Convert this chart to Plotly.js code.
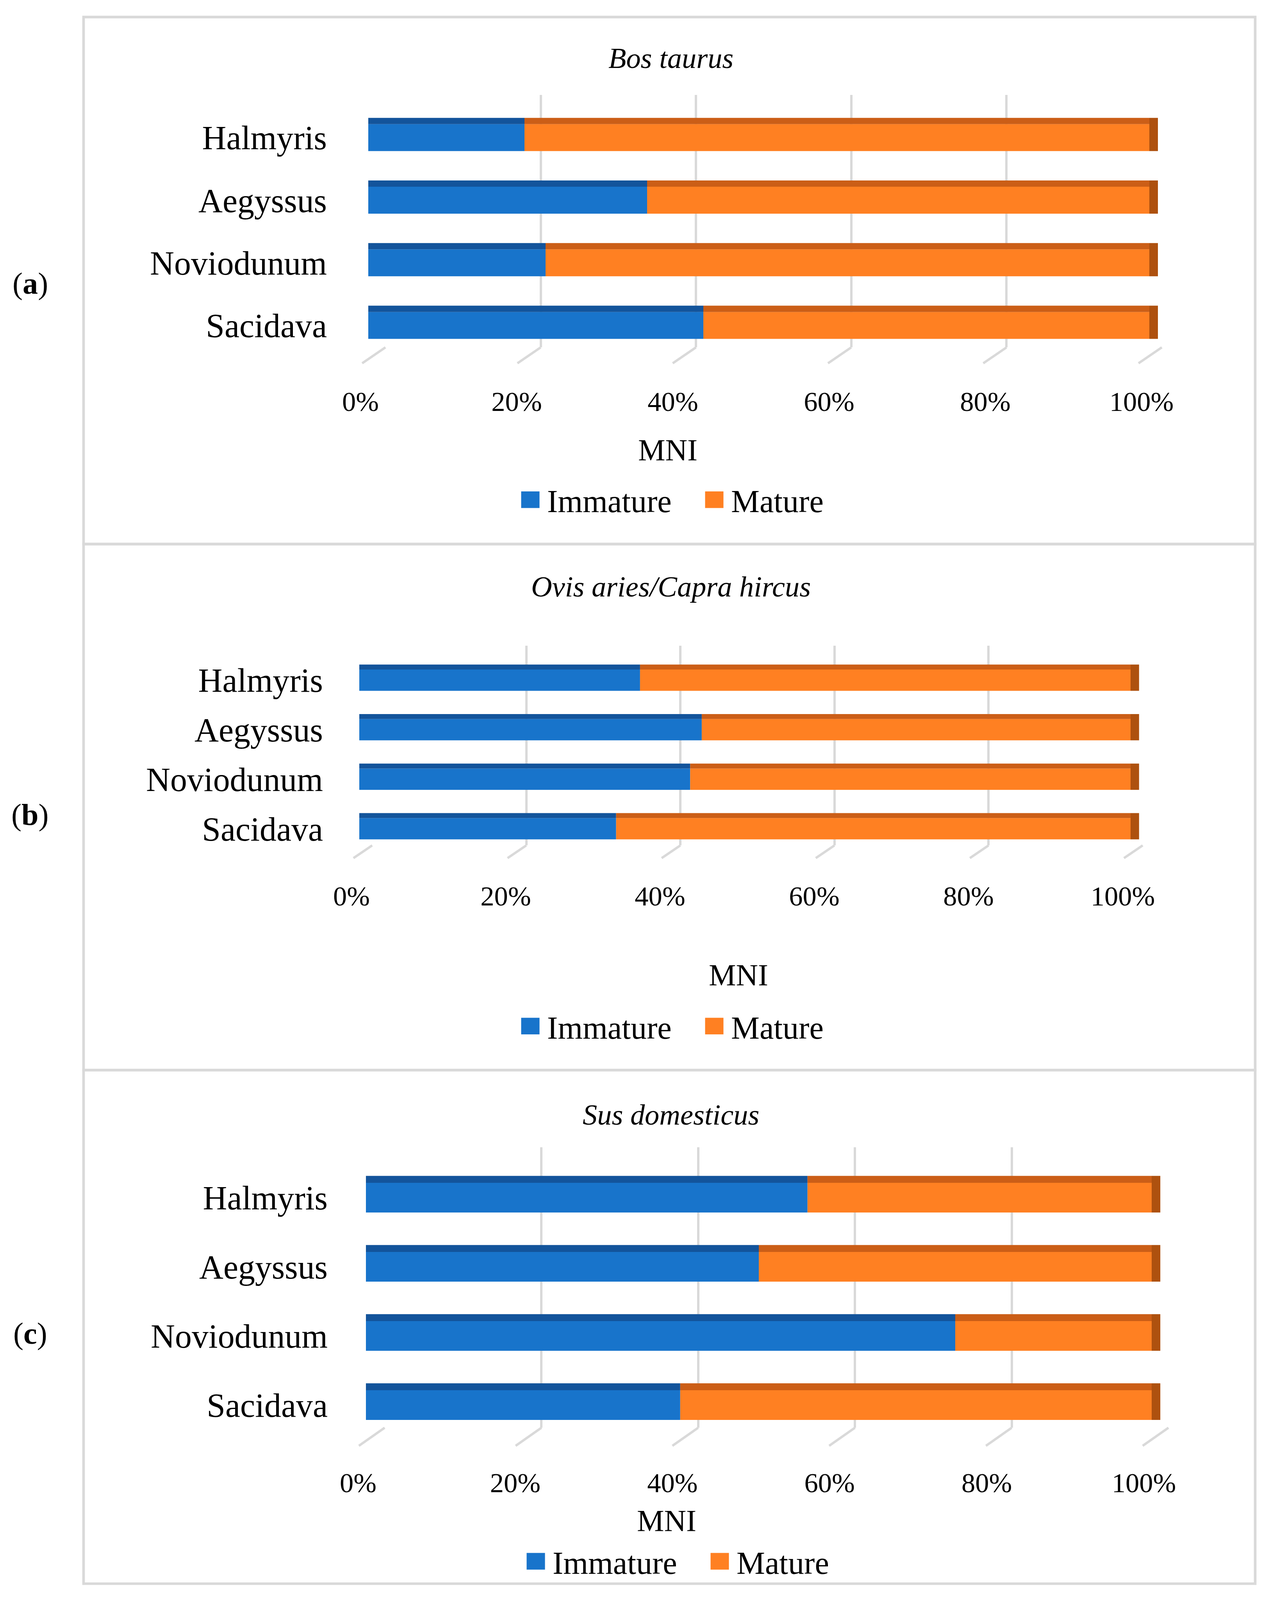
<!DOCTYPE html>
<html>
<head>
<meta charset="utf-8">
<script src="https://cdn.plot.ly/plotly-3.0.1.min.js"></script>
<style>
  html, body { margin: 0; padding: 0; background: #ffffff; overflow: hidden; }
</style>
</head>
<body>
<div id="chart"></div>
<script>
// ---------------- data (% of MNI) ----------------
const sites = ['Halmyris', 'Aegyssus', 'Noviodunum', 'Sacidava']; // top to bottom
const seriesNames = ['Immature', 'Mature'];
const xTickValues = [0, 20, 40, 60, 80, 100];
const xTickLabels = ['0%', '20%', '40%', '60%', '80%', '100%'];
const panelTitles = ['Bos taurus', 'Ovis aries/Capra hircus', 'Sus domesticus'];
const panelLetters = ['a', 'b', 'c'];
const axisTitle = 'MNI';

const bosImmature  = [20.0, 35.7, 22.7, 42.9];
const bosMature    = [80.0, 64.3, 77.3, 57.1];
const ovisImmature = [36.4, 44.4, 42.9, 33.3];
const ovisMature   = [63.6, 55.6, 57.1, 66.7];
const susImmature  = [56.2, 50.0, 75.0, 40.0];
const susMature    = [43.8, 50.0, 25.0, 60.0];

// ---------------- styling / layout ----------------
const REF_W = 3252, REF_H = 4514;              // reference picture size
const W = window.innerWidth || REF_W;          // actual viewport
const H = window.innerHeight || REF_H;
const sx = W / REF_W, sy = H / REF_H, fs = (sx + sy) / 2;
document.getElementById('chart').style.width = W + 'px';
document.getElementById('chart').style.height = H + 'px';

const FONT = 'Liberation Serif, Times New Roman, serif';
const BLUE = '#1874CB', BLUE_TOP = '#13549B';
const ORANGE = '#FF8022', ORANGE_TOP = '#CB5E17', ORANGE_SIDE = '#AE510F';
const GRID = '#d9d9d9';
const FRONT_W = 0.43, TOP_W = 0.10, DEPTH = 1.1, XMAX = 101.5;
const GRID_RANGE = [0, 100];

const fx = v => v / REF_W;
const fy = v => 1 - v / REF_H;

const panelGeo = [
  { bar: {x0: 943, x100: 2943, top: 268,  bot: 1010, rng: [-0.52, 3.68]},
    grid: {x0: 987, x100: 2975, top: 268,  bot: 980, floorDx: 3.0, floorDy: 0.063},
    xStand: 70, yStand: 105,
    title: 164, mni: [1710, 1269], legend: [1332, 1410], letter: 800,
    box: [48, 1535] },
  { bar: {x0: 920, x100: 2895, top: 1822, bot: 2413, rng: [-0.537, 3.694]},
    grid: {x0: 953, x100: 2926, top: 1822, bot: 2385, floorDx: 2.43, floorDy: 0.064},
    xStand: 63, yStand: 92,
    title: 1655, mni: [1891, 2750], legend: [1332, 2895], letter: 2298,
    box: [1535, 3019] },
  { bar: {x0: 937, x100: 2949, top: 3243, bot: 4051, rng: [-0.446, 3.697]},
    grid: {x0: 985, x100: 2992, top: 3237, bot: 4028, floorDx: 3.29, floorDy: 0.0645},
    xStand: 81, yStand: 97,
    title: 3145, mni: [1707, 4290], legend: [1346, 4405], letter: 3762,
    box: [3019, 4468] }
];

const seriesData = [
  [bosImmature, bosMature],
  [ovisImmature, ovisMature],
  [susImmature, susMature]
];

const ITEMW = 76, ENTRYW = 380, SWATCH = 47;

const traces = [];
const layout = {
  width: W, height: H,
  margin: {l: 0, r: 0, t: 0, b: 0},
  paper_bgcolor: '#ffffff',
  plot_bgcolor: 'rgba(0,0,0,0)',
  barmode: 'overlay',
  showlegend: true,
  font: {family: FONT, color: '#000000', size: 80 * fs},
  annotations: [],
  shapes: []
};

const catOrder = sites.slice().reverse(); // bottom to top on the axis

panelGeo.forEach((g, i) => {
  const gx = i === 0 ? 'x' : 'x' + (i + 1);
  const gyy = i === 0 ? 'y' : 'y' + (i + 1);
  const bx = 'x' + (i + 4), by = 'y' + (i + 4);
  const legendId = i === 0 ? 'legend' : 'legend' + (i + 1);
  const [imm, mat] = seriesData[i];
  const matBase = imm.slice();
  const endBase = imm.map((v, k) => v + mat[k]);

  // back-wall gridlines (own subplot, drawn first so it lies behind the bars)
  traces.push({type: 'scatter', x: [], y: [], xaxis: gx, yaxis: gyy,
               showlegend: false, hoverinfo: 'skip'});
  layout[gx.replace('x', 'xaxis')] = {
    domain: [fx(g.grid.x0), fx(g.grid.x100)], range: GRID_RANGE, anchor: gyy,
    tickvals: xTickValues, showticklabels: false, ticks: '',
    showgrid: true, gridcolor: GRID, gridwidth: 6 * sx, zeroline: false, showline: false,
    fixedrange: true
  };
  layout[gyy.replace('y', 'yaxis')] = {
    domain: [fy(g.grid.bot), fy(g.grid.top)], range: [0, 1], anchor: gx,
    showgrid: false, showticklabels: false, zeroline: false, showline: false,
    ticks: '', fixedrange: true
  };
  // floor gridlines: short slanted strokes from the foot of each back gridline
  const span = GRID_RANGE[1] - GRID_RANGE[0];
  xTickValues.forEach(v => {
    layout.shapes.push({
      type: 'line', xref: gx + ' domain', yref: gyy + ' domain', layer: 'below',
      x0: (v - GRID_RANGE[0]) / span, y0: 0,
      x1: (v - g.grid.floorDx - GRID_RANGE[0]) / span, y1: -g.grid.floorDy,
      line: {color: GRID, width: 6 * sx}
    });
  });

  // front faces
  traces.push({type: 'bar', orientation: 'h', name: seriesNames[0], y: sites, x: imm,
               base: 0, width: FRONT_W, offset: -FRONT_W / 2,
               marker: {color: BLUE, line: {width: 0}}, xaxis: bx, yaxis: by,
               legend: legendId, showlegend: true, hoverinfo: 'x+y'});
  traces.push({type: 'bar', orientation: 'h', name: seriesNames[1], y: sites, x: mat,
               base: matBase, width: FRONT_W, offset: -FRONT_W / 2,
               marker: {color: ORANGE, line: {width: 0}}, xaxis: bx, yaxis: by,
               legend: legendId, showlegend: true, hoverinfo: 'x+y'});
  // top faces (3-D look)
  traces.push({type: 'bar', orientation: 'h', name: seriesNames[0] + ' top', y: sites, x: imm,
               base: 0, width: TOP_W, offset: FRONT_W / 2,
               marker: {color: BLUE_TOP, line: {width: 0}}, xaxis: bx, yaxis: by,
               showlegend: false, hoverinfo: 'skip'});
  traces.push({type: 'bar', orientation: 'h', name: seriesNames[1] + ' top', y: sites, x: mat,
               base: matBase, width: TOP_W, offset: FRONT_W / 2,
               marker: {color: ORANGE_TOP, line: {width: 0}}, xaxis: bx, yaxis: by,
               showlegend: false, hoverinfo: 'skip'});
  // right side face
  traces.push({type: 'bar', orientation: 'h', name: 'side', y: sites, x: sites.map(() => DEPTH),
               base: endBase, width: FRONT_W + TOP_W, offset: -FRONT_W / 2,
               marker: {color: ORANGE_SIDE, line: {width: 0}}, xaxis: bx, yaxis: by,
               showlegend: false, hoverinfo: 'skip'});

  const xEnd = g.bar.x100 + (XMAX - 100) * (g.bar.x100 - g.bar.x0) / 100;
  layout['xaxis' + (i + 4)] = {
    domain: [fx(g.bar.x0), fx(xEnd)], range: [0, XMAX], anchor: by,
    tickvals: xTickValues, ticktext: xTickLabels, ticks: '',
    ticklabelstandoff: Math.round(g.xStand * sy), ticklabelshift: Math.round(-20 * sx),
    tickfont: {family: FONT, size: 74 * fs, color: '#000000'},
    showgrid: false, zeroline: false, showline: false, fixedrange: true
  };
  layout['yaxis' + (i + 4)] = {
    domain: [fy(g.bar.bot), fy(g.bar.top)], range: g.bar.rng, anchor: bx,
    type: 'category', categoryorder: 'array', categoryarray: catOrder,
    ticks: '', ticklabelstandoff: Math.round(g.yStand * sx),
    tickfont: {family: FONT, size: 90 * fs, color: '#000000'},
    showgrid: false, zeroline: false, showline: false, fixedrange: true
  };

  layout[legendId] = {
    orientation: 'h',
    x: fx(g.legend[0] - 17), y: fy(g.legend[1]),
    xanchor: 'left', yanchor: 'middle', xref: 'paper', yref: 'paper',
    font: {family: FONT, size: 86 * fs, color: '#000000'},
    bgcolor: 'rgba(0,0,0,0)', borderwidth: 0,
    itemwidth: Math.round(ITEMW * sx), entrywidth: Math.round(ENTRYW * sx), entrywidthmode: 'pixels',
    traceorder: 'normal', itemclick: false, itemdoubleclick: false
  };

  layout.annotations.push({
    text: '<i>' + panelTitles[i] + '</i>', xref: 'paper', yref: 'paper',
    x: fx(1718), y: fy(g.title), xanchor: 'center', yanchor: 'middle',
    showarrow: false, font: {family: FONT, size: 78 * fs, color: '#000000'}
  });
  layout.annotations.push({
    text: axisTitle, xref: 'paper', yref: 'paper',
    x: fx(g.mni[0]), y: fy(g.mni[1]), xanchor: 'center', yanchor: 'middle',
    showarrow: false, font: {family: FONT, size: 82 * fs, color: '#000000'}
  });
  layout.annotations.push({
    text: '(<b>' + panelLetters[i] + '</b>)', xref: 'paper', yref: 'paper',
    x: fx(77), y: fy(g.letter), xanchor: 'center', yanchor: 'middle',
    showarrow: false, font: {family: FONT, size: 82 * fs, color: '#000000'}
  });
  layout.shapes.push({
    type: 'rect', xref: 'paper', yref: 'paper', layer: 'below',
    x0: fx(214), x1: fx(3214), y0: fy(g.box[1]), y1: fy(g.box[0]),
    line: {color: GRID, width: 7 * fs}, fillcolor: 'rgba(0,0,0,0)'
  });
});

Plotly.newPlot('chart', traces, layout, {staticPlot: true, displayModeBar: false}).then(gd => {
  // enlarge legend swatches to the reference's big squares
  const hw = SWATCH * sx / 2, hh = SWATCH * sy / 2;
  gd.querySelectorAll('.legendpoints path').forEach(p => {
    p.setAttribute('d', 'M' + hw + ',' + hh + 'H' + (-hw) + 'V' + (-hh) + 'H' + hw + 'Z');
  });
});
</script>
</body>
</html>
